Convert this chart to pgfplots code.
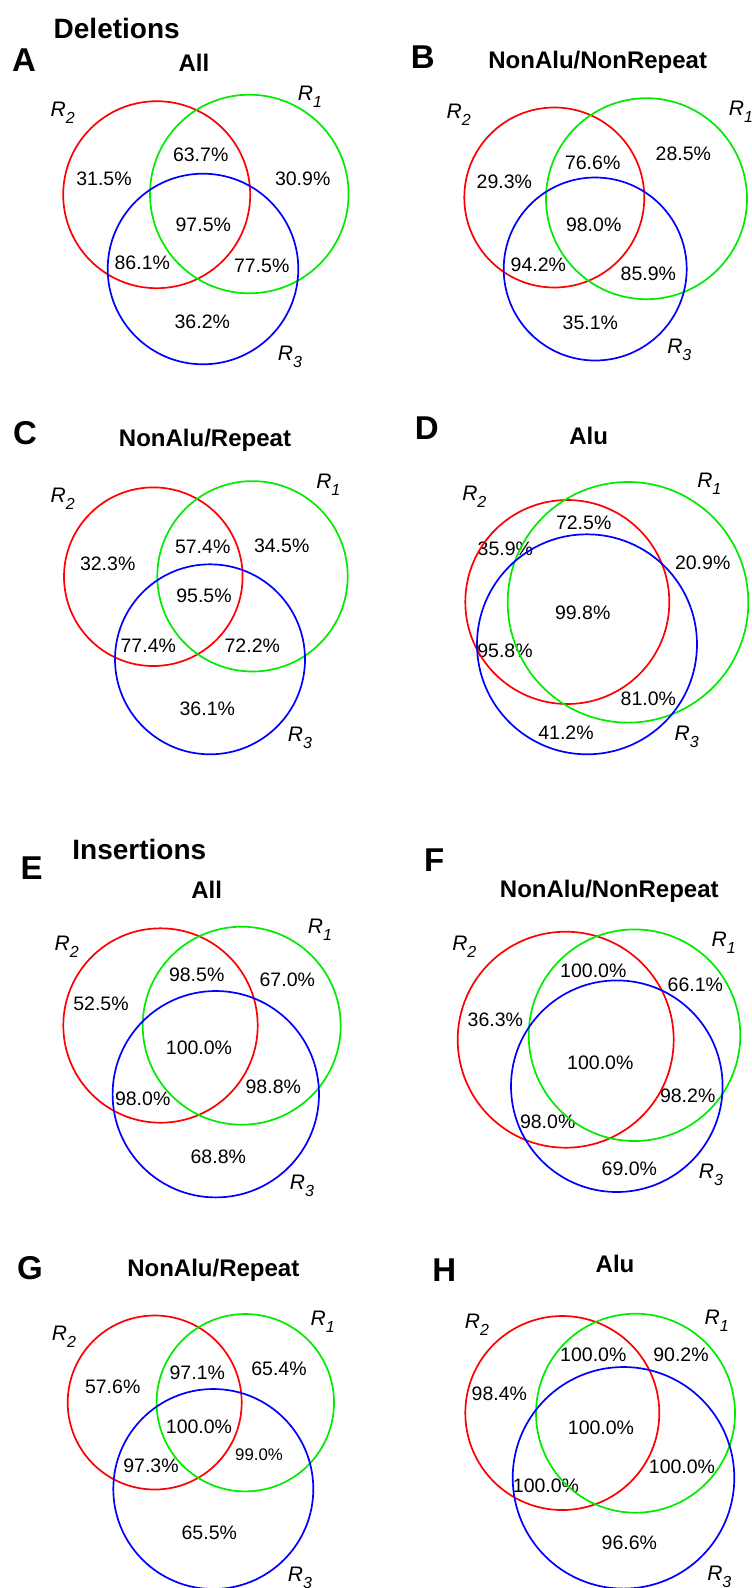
\documentclass[border=0pt]{standalone}
\usepackage{pgfplots}
\pgfplotsset{compat=1.18}
\usepackage{pgfplotstable}
\usepackage{fontspec}
\setmainfont{Liberation Sans}
\definecolor{vred}{RGB}{255,0,0}
\definecolor{vgreen}{RGB}{0,235,0}
\definecolor{vblue}{RGB}{0,0,255}

% circle centres (pixels, y downwards) and radii
\pgfplotstableread{
x y r
156.7 194.7 93.5
554.3 197.5 90
153.3 576.7 89.3
567.3 602 102
160.5 1025.5 97.2
565.7 1039.7 108
154.7 1402.5 87
562.3 1413 97
}\redcircles
\pgfplotstableread{
x y r
249.3 194 99.3
646.5 198.7 100.5
252.5 576.3 95.2
628 602.3 120.3
241.7 1025.7 99
634.5 1035.2 105.8
245.3 1402.7 88.7
635.5 1413.2 99.5
}\greencircles
\pgfplotstableread{
x y r
203 269 95.3
595.2 269 91.5
210 659.3 95
587 644.3 110
215.8 1094.2 103.2
616.8 1086.2 105.8
213.3 1489 100
623.5 1477.8 110.8
}\bluecircles

\tikzset{
  num/.style={font=\fontsize{19.5}{20}\selectfont, inner sep=0pt},
  smallnum/.style={font=\fontsize{16.8}{18}\selectfont, inner sep=0pt},
  ttl/.style={font=\bfseries\fontsize{24}{26}\selectfont, inner sep=0pt},
  big/.style={font=\bfseries\fontsize{28}{30}\selectfont, inner sep=0pt},
  plet/.style={font=\bfseries\fontsize{33}{35}\selectfont, inner sep=0pt},
  rl/.style={font=\itshape\fontsize{21}{23}\selectfont, inner sep=0pt},
}
\newcommand{\Rl}[1]{R\raisebox{-7pt}{\fontsize{16}{16}\selectfont #1}}

\begin{document}
\begin{tikzpicture}
\useasboundingbox (0,0) rectangle (752pt,1588pt);
\clip (0,0) rectangle (752pt,1588pt);
\begin{axis}[
  at={(0,0)}, anchor=south west,
  scale only axis, width=752pt, height=1588pt,
  xmin=0, xmax=752, ymin=0, ymax=1588, y dir=reverse,
  hide axis, clip=false,
  circ/.style={scatter, only marks, mark=o, line width=1.7pt,
    scatter/use mapped color={draw=#1, fill=none},
    visualization depends on={\thisrow{r}\as\rad},
    scatter/@pre marker code/.append style={/tikz/mark size=\rad}},
]
\addplot[circ=vred] table[x=x, y=y] {\redcircles};
\addplot[circ=vgreen] table[x=x, y=y] {\greencircles};
\addplot[circ=vblue] table[x=x, y=y] {\bluecircles};

% headings
\node[big] at (axis cs:116.7,28.3) {Deletions};
\node[big] at (axis cs:139.3,849.3) {Insertions};
\node[plet] at (axis cs:24,60) {A};
\node[plet] at (axis cs:422.7,56.7) {B};
\node[plet] at (axis cs:25,433.3) {C};
\node[plet] at (axis cs:426.7,428.3) {D};
\node[plet] at (axis cs:31.7,868.3) {E};
\node[plet] at (axis cs:434.3,860) {F};
\node[plet] at (axis cs:30,1268.3) {G};
\node[plet] at (axis cs:444.3,1270) {H};
\node[ttl] at (axis cs:194,62.7) {All};
\node[ttl] at (axis cs:597.7,62.7) {NonAlu/NonRepeat};
\node[ttl] at (axis cs:205,440) {NonAlu/Repeat};
\node[ttl] at (axis cs:588.7,436) {Alu};
\node[ttl] at (axis cs:206.7,890) {All};
\node[ttl] at (axis cs:609.3,891.7) {NonAlu/NonRepeat};
\node[ttl] at (axis cs:213.3,1270) {NonAlu/Repeat};
\node[ttl] at (axis cs:615,1264) {Alu};

% R labels
\node[rl] at (axis cs:62.7,113) {\Rl{2}};
\node[rl] at (axis cs:310,97) {\Rl{1}};
\node[rl] at (axis cs:290,357) {\Rl{3}};
\node[rl] at (axis cs:458.7,115) {\Rl{2}};
\node[rl] at (axis cs:741,111.7) {\Rl{1}};
\node[rl] at (axis cs:679.3,350) {\Rl{3}};
\node[rl] at (axis cs:62.7,498.3) {\Rl{2}};
\node[rl] at (axis cs:328.3,485) {\Rl{1}};
\node[rl] at (axis cs:300,738.3) {\Rl{3}};
\node[rl] at (axis cs:474.3,496.7) {\Rl{2}};
\node[rl] at (axis cs:709.3,483.3) {\Rl{1}};
\node[rl] at (axis cs:686.7,736.7) {\Rl{3}};
\node[rl] at (axis cs:66.7,946.7) {\Rl{2}};
\node[rl] at (axis cs:320,930) {\Rl{1}};
\node[rl] at (axis cs:302,1186) {\Rl{3}};
\node[rl] at (axis cs:464.3,946.7) {\Rl{2}};
\node[rl] at (axis cs:723.7,942.7) {\Rl{1}};
\node[rl] at (axis cs:711,1175) {\Rl{3}};
\node[rl] at (axis cs:64,1336.7) {\Rl{2}};
\node[rl] at (axis cs:322.7,1321.7) {\Rl{1}};
\node[rl] at (axis cs:300,1578.3) {\Rl{3}};
\node[rl] at (axis cs:477,1324.3) {\Rl{2}};
\node[rl] at (axis cs:716.7,1321) {\Rl{1}};
\node[rl] at (axis cs:719.3,1576.7) {\Rl{3}};

% A
\node[num] at (axis cs:104,179) {31.5\%};
\node[num] at (axis cs:200.7,155) {63.7\%};
\node[num] at (axis cs:302.7,178.3) {30.9\%};
\node[num] at (axis cs:203.3,225) {97.5\%};
\node[num] at (axis cs:142.3,262.3) {86.1\%};
\node[num] at (axis cs:261.7,265.7) {77.5\%};
\node[num] at (axis cs:202.3,321.7) {36.2\%};
% B
\node[num] at (axis cs:504.3,181.7) {29.3\%};
\node[num] at (axis cs:592.7,162.3) {76.6\%};
\node[num] at (axis cs:683.3,154) {28.5\%};
\node[num] at (axis cs:593.7,225) {98.0\%};
\node[num] at (axis cs:538.3,264.3) {94.2\%};
\node[num] at (axis cs:648.3,273.3) {85.9\%};
\node[num] at (axis cs:590.3,322.7) {35.1\%};
% C
\node[num] at (axis cs:107.7,563.3) {32.3\%};
\node[num] at (axis cs:202.7,546.7) {57.4\%};
\node[num] at (axis cs:281.7,546) {34.5\%};
\node[num] at (axis cs:204,596) {95.5\%};
\node[num] at (axis cs:148.3,645.3) {77.4\%};
\node[num] at (axis cs:252.3,645.3) {72.2\%};
\node[num] at (axis cs:207.3,709) {36.1\%};
% D
\node[num] at (axis cs:583.7,522.7) {72.5\%};
\node[num] at (axis cs:505.3,549) {35.9\%};
\node[num] at (axis cs:702.7,562.3) {20.9\%};
\node[num] at (axis cs:582.7,612.7) {99.8\%};
\node[num] at (axis cs:505,651) {95.8\%};
\node[num] at (axis cs:648.3,698.3) {81.0\%};
\node[num] at (axis cs:566,732.3) {41.2\%};
% E
\node[num] at (axis cs:101,1003.3) {52.5\%};
\node[num] at (axis cs:196.7,974.3) {98.5\%};
\node[num] at (axis cs:287.3,979.3) {67.0\%};
\node[num] at (axis cs:199,1047.7) {100.0\%};
\node[num] at (axis cs:273.3,1086.7) {98.8\%};
\node[num] at (axis cs:142.7,1099) {98.0\%};
\node[num] at (axis cs:218.3,1156.7) {68.8\%};
% F
\node[num] at (axis cs:593.3,971) {100.0\%};
\node[num] at (axis cs:695.3,985) {66.1\%};
\node[num] at (axis cs:495.3,1019.3) {36.3\%};
\node[num] at (axis cs:600.3,1062.7) {100.0\%};
\node[num] at (axis cs:687.7,1096) {98.2\%};
\node[num] at (axis cs:547.7,1121.7) {98.0\%};
\node[num] at (axis cs:629.3,1168.3) {69.0\%};
% G
\node[num] at (axis cs:112.7,1386.7) {57.6\%};
\node[num] at (axis cs:197.3,1372.7) {97.1\%};
\node[num] at (axis cs:279,1369) {65.4\%};
\node[num] at (axis cs:199,1426.7) {100.0\%};
\node[smallnum] at (axis cs:259,1455) {99.0\%};
\node[num] at (axis cs:151,1466) {97.3\%};
\node[num] at (axis cs:209.3,1532.3) {65.5\%};
% H
\node[num] at (axis cs:593.3,1355) {100.0\%};
\node[num] at (axis cs:681,1355) {90.2\%};
\node[num] at (axis cs:499.3,1393.3) {98.4\%};
\node[num] at (axis cs:601,1427.7) {100.0\%};
\node[num] at (axis cs:682,1466.7) {100.0\%};
\node[num] at (axis cs:546,1486) {100.0\%};
\node[num] at (axis cs:629.3,1542.3) {96.6\%};
\end{axis}
\end{tikzpicture}
\end{document}
